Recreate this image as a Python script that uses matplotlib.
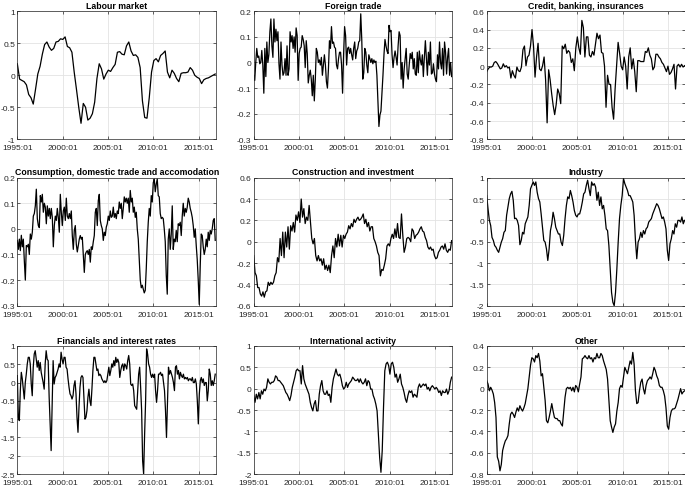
import numpy as np
import matplotlib
matplotlib.use("Agg")
import matplotlib.pyplot as plt

plt.rcParams['font.family'] = ['Liberation Sans', 'DejaVu Sans']

# --- data (uniformly spaced samples, 1995:01 .. 2016:12) ---
labour = [0.18, -0.06, -0.08, -0.1, -0.15, -0.3, -0.35, -0.45, -0.22, 0.02,
          0.14, 0.33, 0.48, 0.52, 0.44, 0.39, 0.42, 0.52, 0.53, 0.57,
          0.56, 0.6, 0.45, 0.43, 0.36, 0.05, -0.22, -0.5, -0.75, -0.44,
          -0.5, -0.7, -0.67, -0.6, -0.42, -0.05, 0.18, 0.1, -0.06, 0.02,
          0.08, 0.06, 0.12, 0.17, 0.36, 0.37, 0.33, 0.32, 0.46, 0.52,
          0.38, 0.31, 0.32, 0.28, 0.12, -0.4, -0.66, -0.67, -0.35, 0.05,
          0.23, 0.26, 0.21, 0.31, 0.34, 0.38, 0.05, -0.04, 0.08, 0.03,
          -0.05, -0.1, 0.03, 0.04, 0.04, 0.05, 0.12, 0.08, 0.0, -0.03,
          -0.05, -0.13, -0.07, -0.05, -0.04, -0.02, 0.0, 0.02]

foreign = [-0.05, -0.07, 0, 0.055, 0.02, 0.025, -0.005, 0, 0.047, -0.01,
           -0.12, 0.055, -0.055, 0.08, 0, 0.03, 0.12, 0.17, 0.065, 0.02,
           0.17, 0.08, 0.13, 0.085, 0.12, -0.005, -0.065, 0.08, -0.01, -0.05,
           -0.04, 0.015, -0.05, 0.065, -0.05, -0.025, 0.12, 0.08, 0.105, 0.055,
           0.1, 0.04, 0.135, 0.105, -0.07, 0.035, 0.055, 0.06, 0.105, 0.09,
           0.065, -0.02, 0.085, 0.035, -0.08, -0.05, -0.03, -0.065, -0.13, -0.05,
           -0.15, -0.065, 0.055, 0.04, 0, 0.01, -0.01, 0.02, -0.05, -0.01,
           0.03, -0.01, -0.075, -0.1, -0.025, 0.085, 0.055, 0.14, 0.075, 0.08,
           0.06, 0.055, -0.01, -0.025, 0.015, 0.04, 0.04, -0.01, -0.12, 0.03,
           0.14, 0.105, -0.01, 0.055, 0.06, 0.035, 0.055, 0.03, 0.01, 0.055,
           0.08, 0.015, 0.045, 0.055, 0.08, 0.085, 0.19, 0.09, -0.065, -0.04,
           0.055, 0.04, -0.01, -0.04, 0.03, 0.015, 0, 0.015, -0.005, 0.01,
           0, 0.005, -0.05, -0.155, -0.25, -0.205, -0.19, -0.12, -0.05, 0.03,
           0.09, 0.065, 0.045, 0.035, 0.145, 0.12, 0.125, 0.03, -0.02, 0.02,
           0.045, 0.02, -0.01, 0.065, 0.12, 0.105, -0.065, 0, -0.1, -0.025,
           0.015, 0.055, -0.045, -0.065, -0.01, 0.035, 0.015, 0.04, -0.025, 0.015,
           -0.045, -0.05, 0.04, -0.04, 0.045, 0.01, -0.01, 0.03, -0.055, 0.02,
           0.085, 0.015, -0.05, 0.04, -0.01, 0.08, -0.045, -0.04, -0.005, -0.045,
           -0.065, -0.075, 0.03, -0.025, 0.08, 0, -0.025, 0.055, -0.05, 0.08,
           0.04, -0.045, 0.02, 0.055, -0.05, 0, -0.055]

credit = [-0.06, -0.03, -0.01, -0.01, 0.0, 0.04, 0.05, 0.03, 0.0, -0.03,
          -0.02, 0.025, -0.01, 0.005, -0.02, -0.01, -0.13, -0.05, -0.1, -0.13,
          -0.01, -0.05, -0.06, -0.01, 0.18, 0.22, 0.005, 0.1, 0.12, 0.22,
          0.4, 0.22, -0.12, 0.1, 0.25, -0.03, -0.05, 0.005, 0.1, -0.15,
          -0.62, -0.04, -0.15, -0.3, -0.43, -0.53, -0.42, -0.25, -0.3, -0.41,
          0.22, 0.19, 0.24, 0.14, 0.17, 0.15, 0.04, 0.08, -0.05, 0.2,
          0.32, 0.2, 0.13, 0.5, 0.42, 0.1, 0.32, 0.32, 0.12, 0.1,
          0.16, 0.12, 0.24, 0.36, 0.3, 0.34, 0.15, 0.14, 0.0, -0.45,
          -0.1, -0.2, -0.2, -0.45, -0.58, -0.25, 0.0, 0.26, 0.14, 0.0,
          -0.04, 0.1, 0.0, -0.25, 0.1, 0.2, -0.03, 0.08, -0.06, -0.28,
          0.06, 0.06, 0.05, 0.05, 0.05, 0.16, 0.15, 0.2, 0.12, 0.08,
          -0.04, -0.01, 0.13, 0.13, 0.1, 0.08, 0.04, 0.02, -0.02, -0.06,
          0.0, -0.09, -0.07, -0.03, 0.02, -0.25, 0.0, 0.02, -0.01, 0.02,
          -0.01, 0.005]

consumption = [-0.045, -0.08, -0.04, -0.085, -0.025, -0.07, -0.04, -0.125, -0.2, -0.065,
               -0.07, -0.06, -0.1, -0.02, -0.04, -0.013, 0.05, 0.06, 0.09, 0.155,
               0.04, 0.013, 0.005, 0.13, 0.105, 0.135, 0.065, 0.1, 0.085, 0.02,
               0.09, 0.05, 0.08, 0.04, 0.08, 0.045, -0.07, 0.013, 0.05, 0.033,
               0.08, 0.045, -0.013, 0.135, 0.065, 0.013, 0.07, 0.085, 0.033, 0.12,
               0.05, 0.04, 0.06, 0.04, 0.07, -0.026, -0.08, -0.006, 0.013, -0.06,
               -0.09, -0.065, -0.04, -0.026, -0.04, -0.033, -0.1, -0.17, -0.1, -0.09,
               -0.085, -0.1, -0.08, -0.13, -0.07, -0.08, -0.05, -0.026, 0.065, 0.08,
               0.013, 0.11, 0.135, 0.033, 0.013, 0.0, -0.045, -0.013, -0.026, 0.007,
               0.02, 0.05, 0.033, 0.07, 0.045, 0.05, 0.085, 0.045, 0.06, 0.04,
               0.07, 0.06, 0.105, 0.08, 0.1, 0.04, 0.08, 0.125, 0.105, 0.12,
               0.1, 0.12, 0.065, 0.15, 0.105, 0.12, 0.065, 0.085, 0.045, 0.065,
               0.0, -0.04, -0.12, -0.2, -0.23, -0.22, -0.235, -0.25, -0.24, -0.155,
               -0.05, 0.026, 0.08, 0.05, 0.13, 0.105, 0.18, 0.195, 0.145, 0.175,
               0.195, 0.13, 0.125, 0.06, 0.04, 0.045, 0.04, 0.0, -0.05, -0.18,
               -0.255, -0.04, 0.0, -0.08, -0.02, 0.09, -0.08, -0.04, -0.05, -0.006,
               -0.05, 0.02, 0.013, 0.026, -0.026, 0.05, 0.1, 0.05, 0.08, 0.065,
               0.085, 0.12, 0.105, 0.08, 0.065, 0.045, 0.013, -0.033, 0.0, -0.065,
               -0.12, -0.2, -0.295, -0.145, -0.02, -0.026, -0.07, -0.1, -0.08, -0.04,
               -0.07, -0.013, -0.045, -0.006, -0.02, 0.0, 0.033, 0.04, -0.045]

construction = [-0.13, -0.29, -0.32, -0.43, -0.43, -0.49, -0.51, -0.47, -0.52, -0.47,
                -0.46, -0.38, -0.41, -0.38, -0.4, -0.38, -0.32, -0.29, -0.15, -0.19,
                0.03, -0.13, 0.09, -0.15, 0.09, -0.05, 0.14, -0.07, 0.15, 0.1,
                0.18, 0.09, 0.25, 0.2, 0.28, 0.18, 0.4, 0.23, 0.31, 0.17,
                0.23, 0.2, 0.34, 0.18, 0.03, -0.02, 0.03, -0.13, -0.18, -0.13,
                -0.18, -0.16, -0.22, -0.16, -0.26, -0.22, -0.27, -0.22, -0.29, -0.13,
                -0.04, -0.15, 0.03, -0.05, 0.07, -0.04, 0.06, -0.05, 0.06, 0.03,
                0.07, 0.09, 0.15, 0.12, 0.17, 0.14, 0.21, 0.18, 0.21, 0.23,
                0.2, 0.21, 0.23, 0.26, 0.17, 0.21, 0.14, 0.18, 0.1, 0.14,
                0.14, 0.03, 0.0, -0.04, -0.1, -0.13, -0.32, -0.26, -0.27, -0.22,
                -0.16, -0.04, -0.02, -0.04, 0.03, 0.07, 0.03, 0.12, 0.04, 0.17,
                0.04, 0.03, 0.26, 0.06, -0.1, -0.05, 0.03, 0.04, 0.03, 0.0,
                0.12, 0.1, 0.03, 0.06, 0.07, 0.09, 0.12, 0.14, 0.1, 0.09,
                0.04, 0.01, -0.05, -0.07, -0.05, -0.08, -0.07, -0.13, -0.16, -0.15,
                -0.1, -0.08, -0.05, -0.04, -0.07, -0.02, -0.08, -0.1, -0.07, -0.08,
                0.01]

industry = [0.58, 0.27, 0.0, -0.12, -0.4, -0.47, -0.59, -0.63, -0.7, -0.75,
            -0.63, -0.51, -0.43, -0.28, -0.24, 0.12, 0.31, 0.51, 0.62, 0.68,
            0.47, 0.04, 0.05, 0.0, -0.12, -0.57, -0.47, -0.28, -0.32, -0.08,
            0.0, 0.08, 0.35, 0.74, 0.82, 0.9, 0.82, 0.9, 0.66, 0.51,
            0.43, 0.15, -0.16, -0.47, -0.51, -0.67, -0.94, -0.67, -0.24, -0.08,
            0.19, 0.04, -0.16, -0.24, -0.32, -0.32, -0.51, -0.59, -0.35, 0.04,
            0.35, 0.55, 0.51, 0.7, 0.58, 0.43, 0.23, 0.12, 0.08, 0.15,
            0.15, 0.27, 0.43, 0.62, 0.66, 0.82, 0.94, 0.74, 0.58, 0.9,
            0.82, 0.86, 0.78, 0.47, 0.66, 0.35, 0.55, 0.27, 0.35, 0.12,
            -0.2, -0.24, -0.59, -1.14, -1.69, -1.92, -2.0, -1.69, -1.14, -0.51,
            0.04, 0.35, 0.58, 0.98, 0.86, 0.78, 0.7, 0.58, 0.58, 0.51,
            0.43, 0.12, -0.47, -0.9, -0.51, -0.43, -0.28, -0.4, -0.24, -0.32,
            -0.2, -0.16, -0.04, 0.0, 0.04, 0.15, 0.23, 0.31, 0.39, 0.35,
            0.27, 0.15, 0.04, 0.08, -0.04, -0.2, -0.7, -0.94, -0.55, -0.43,
            -0.24, -0.32, -0.08, -0.16, 0.0, 0.0, -0.04, 0.08, -0.08, 0.0]

financials = [0.19, -0.95, -1.04, -0.22, 0.28, 0.1, -0.18, -0.45, 0.0, 0.23,
              0.51, 0.69, 0.69, 0.51, -0.04, -0.36, 0.42, 0.78, 0.87, 0.64,
              0.42, 0.6, 0.33, 0.55, 0.28, 0.14, 0.0, -0.18, 0.51, 0.87,
              0.64, 0.6, -0.4, -1.13, -1.86, -0.68, 0.6, -0.04, 0.14, 0.19,
              0.28, 0.37, 0.51, 0.42, 0.83, 0.64, 0.51, 0.69, 0.69, 0.42,
              0.37, 0.1, -0.13, -0.31, -0.36, -0.45, -0.36, -0.08, 0.05, -0.31,
              -0.95, -1.36, -0.68, -0.13, 0.14, 0.19, 0.14, -0.4, -1.0, -0.95,
              -0.77, -0.4, -0.18, -0.5, -0.63, -0.18, 0.33, 0.69, 0.69, 0.51,
              0.33, 0.37, 0.19, 0.23, 0.19, 0.1, 0.05, 0.0, 0.05, 0.0,
              0.05, 0.23, 0.42, 0.19, 0.33, 0.51, 0.42, 0.6, 0.46, 0.69,
              0.55, 0.64, 0.55, 0.14, 0.33, 0.46, 0.51, 0.33, 0.51, 0.46,
              0.37, 0.6, 0.74, 0.51, -0.04, -0.08, -0.04, -0.22, -0.63, -0.68,
              -0.73, -0.27, 0.23, 0.42, -0.13, -0.77, -2.14, -2.5, -1.41, -0.5,
              0.92, 0.78, 0.51, 0.42, 0.23, 0.14, 0.23, 0.14, 0.23, -0.22,
              -0.54, -0.22, 0.23, 0.23, 0.28, 0.19, 0.23, 0.0, -0.22, -0.77,
              -1.5, -0.59, 0.42, 0.23, 0.33, 0.23, 0.14, 0.0, -0.22, 0.42,
              0.46, 0.23, 0.33, 0.1, 0.28, 0.19, 0.14, 0.23, 0.1, 0.14,
              0.1, 0.14, 0.05, 0.1, 0.1, 0.05, 0.14, 0.0, 0.0, 0.1,
              -0.04, -0.5, -1.13, -0.31, 0.05, 0.14, 0.0, 0.1, -0.08, 0.0,
              0.0, -0.5, -0.22, 0.37, 0.23, -0.08, 0.05, -0.08, 0.05, 0.23]

international = [-0.16, -0.32, -0.13, -0.24, -0.09, -0.24, -0.05, -0.13, -0.01, -0.05,
                 0.03, 0.23, 0.15, 0.11, 0.15, 0.15, 0.19, 0.3, 0.27, 0.19,
                 0.19, 0.15, 0.11, 0.07, -0.01, -0.09, -0.13, -0.2, -0.28, -0.16,
                 0.03, 0.15, 0.27, 0.42, 0.46, 0.42, 0.42, 0.11, 0.54, 0.23,
                 0.11, 0.03, -0.05, -0.13, -0.32, -0.44, -0.52, -0.36, -0.28, -0.52,
                 -0.52, -0.13, 0.07, 0.19, -0.05, -0.13, -0.13, -0.05, -0.16, -0.13,
                 -0.32, 0.03, 0.23, 0.34, 0.46, 0.34, 0.3, 0.34, 0.23, 0.07,
                 -0.01, 0.03, 0.15, 0.03, 0.11, 0.15, 0.19, 0.27, 0.23, 0.19,
                 0.19, 0.23, 0.15, 0.23, 0.15, 0.11, 0.15, 0.23, 0.07, 0.19,
                 0.15, -0.01, -0.01, -0.16, -0.24, -0.36, -0.52, -1.06, -1.61, -1.96,
                 -1.45, -0.44, 0.42, 0.58, 0.62, 0.54, 0.34, 0.58, 0.62, 0.5,
                 0.27, 0.34, 0.15, 0.23, 0.34, 0.11, 0.03, -0.09, -0.24, -0.32,
                 -0.16, -0.05, -0.09, -0.05, -0.2, -0.13, -0.16, -0.2, 0.03, 0.11,
                 0.03, 0.07, 0.11, 0.07, 0.11, -0.01, 0.03, -0.05, 0.03, 0.07,
                 0.03, -0.01, 0.03, -0.01, -0.09, -0.05, -0.16, -0.05, -0.09, -0.09,
                 -0.01, -0.13, -0.05, 0.15, 0.27]

other = [0.075, 0.044, -0.02, 0.013, -0.013, -0.05, -0.13, -0.27, -0.64, -0.68,
         -0.77, -0.71, -0.58, -0.53, -0.49, -0.47, -0.44, -0.33, -0.24, -0.22,
         -0.24, -0.27, -0.22, -0.18, -0.21, -0.16, -0.19, -0.21, -0.18, -0.14,
         -0.07, 0.0, 0.11, 0.22, 0.29, 0.28, 0.25, 0.31, 0.29, 0.33,
         0.26, 0.12, 0.14, 0.013, -0.11, -0.3, -0.32, -0.27, -0.21, -0.14,
         -0.21, -0.27, -0.28, -0.28, -0.3, -0.3, -0.33, -0.35, -0.22, -0.08,
         0.0, 0.013, 0.0, 0.013, -0.02, 0.013, -0.03, 0.03, 0.013, -0.03,
         0.044, 0.11, 0.28, 0.29, 0.31, 0.29, 0.28, 0.31, 0.28, 0.29,
         0.25, 0.29, 0.28, 0.33, 0.29, 0.29, 0.33, 0.31, 0.26, 0.22,
         0.18, 0.09, -0.11, -0.3, -0.36, -0.41, -0.36, -0.33, -0.21, -0.13,
         0.0, 0.03, 0.013, 0.11, 0.2, 0.17, 0.14, 0.2, 0.26, 0.23,
         0.34, 0.23, -0.02, -0.14, -0.13, -0.02, 0.06, 0.09, 0.0, -0.05,
         0.03, 0.075, 0.09, 0.11, 0.09, 0.14, 0.2, 0.17, 0.12, 0.09,
         0.03, 0.013, 0.013, -0.02, -0.07, -0.18, -0.35, -0.38, -0.27, -0.21,
         -0.19, -0.19, -0.18, -0.14, -0.1, -0.05, 0.0, -0.05, -0.03, -0.02]

titles = ["Labour market", "Foreign trade", "Credit, banking, insurances",
          "Consumption, domestic trade and accomodation", "Construction and investment", "Industry",
          "Financials and interest rates", "International activity", "Other"]
series = [labour, foreign, credit, consumption, construction, industry,
          financials, international, other]

x_ticks = [0, 60, 120, 180, 240]          # months since 1995:01
x_labels = ["1995:01", "2000:01", "2005:01", "2010:01", "2015:01"]
n_months = 263

# y axis (min, max, step) per panel
y_axes = [(-1, 1, 0.5), (-0.3, 0.2, 0.1), (-0.8, 0.6, 0.2),
          (-0.3, 0.2, 0.1), (-0.6, 0.6, 0.2), (-2, 1, 0.5),
          (-2.5, 1, 0.5), (-2, 1, 0.5), (-0.8, 0.4, 0.2)]

fig = plt.figure(figsize=(6.85, 4.89), dpi=100)

lefts = [0.0253, 0.3704, 0.7105]
bottoms = [0.7131, 0.3728, 0.0286]
w, h = 0.29, 0.2618

for i in range(9):
    r, c = divmod(i, 3)
    ax = fig.add_axes([lefts[c], bottoms[r], w, h])
    vals = np.array(series[i])
    t = np.linspace(0, 262, len(vals))
    ax.plot(t, vals, color='black', lw=0.9)

    lo, hi, st = y_axes[i]
    ax.set_xlim(0, n_months)
    ax.set_ylim(lo, hi)
    yt = np.round(np.arange(lo, hi + st / 2, st), 2) + 0.0
    ax.set_yticks(yt)
    ax.set_yticklabels([f"{v:g}" if abs(v) > 1e-9 else "0" for v in yt])
    ax.set_xticks(x_ticks)
    ax.set_xticklabels(x_labels)

    ax.grid(True, color='#e3e3e3', lw=0.6)
    ax.set_axisbelow(True)
    ax.tick_params(direction='in', length=2.5, width=0.5, labelsize=6.0,
                   colors='#262626', top=True, right=True)
    ax.tick_params(axis='x', pad=3.5)
    ax.tick_params(axis='y', pad=1.6)
    for s in ax.spines.values():
        s.set_linewidth(0.5)
        s.set_color('#262626')
    ax.set_title(titles[i], fontsize=6.3, fontweight='bold', pad=2.5)

fig.savefig("out.png", dpi=100)
